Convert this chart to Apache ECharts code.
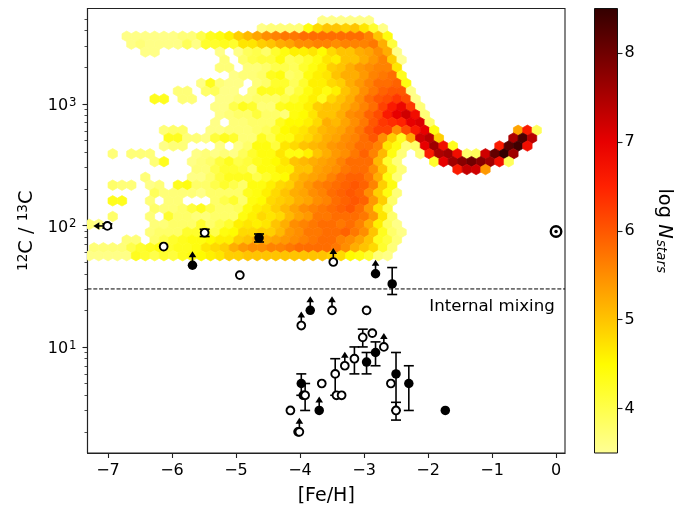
<!DOCTYPE html>
<html><head><meta charset="utf-8">
<style>html,body{margin:0;padding:0;background:#fff}#c{width:686px;height:506px}</style>
<script src="https://cdn.jsdelivr.net/npm/echarts@6/dist/echarts.min.js"></script></head>
<body><div id="c"></div>
<script>
const xTicks=[-7,-6,-5,-4,-3,-2,-1,0];
const yMajor=[10,100,1000];
const yMinor=[2,3,4,5,6,7,8,9,20,30,40,50,60,70,80,90,200,300,400,500,600,700,800,900,2000,3000,4000,5000];
const cbTicks=[4,5,6,7,8];
const hexColors=['#ffff96','#ffff4b','#fffc00','#ffc400','#ff8e00','#ff5700','#ff2100','#e70000','#ab0000','#6f0000','#330000'];
// hexagon lattice of the picture
const hexX0=-6.708, hexDX=0.1456, hexY0=3.685, hexDY=0.06447;
// each row: first column, then 10*log N per cell (0 = empty)
const hexRows=[
[21,36,36,36,36,36,36],
[14,36,37,37,37,37,44,48,50,50,49,50,47,42,36],
[0,36,36,36,36,36,36,37,37,40,43,44,46,49,51,53,55,56,57,57,58,58,58,58,58,58,58,56,50,44],
[0,36,37,36,36,36,36,39,36,42,42,43,42,47,47,49,50,52,53,55,55,56,56,55,56,56,56,57,52,41],
[2,36,36,0,0,0,0,0,0,36,0,36,39,40,38,42,44,46,46,47,45,48,50,50,52,53,55,52,36],
[10,37,0,38,40,41,41,44,39,40,42,44,47,46,50,50,52,54,56,49,35],
[10,37,37,0,37,37,38,40,40,39,42,44,46,49,50,52,54,55,56,56,47],
[11,36,37,37,38,43,44,38,39,44,46,47,50,52,52,54,56,57,58,43],
[8,36,43,37,36,36,0,37,38,42,42,39,42,46,46,48,49,52,54,56,58,58,59,44],
[5,37,37,0,38,39,36,36,0,37,43,43,43,38,41,44,46,44,46,50,52,55,57,59,60,60,36],
[3,43,43,0,37,37,0,0,36,36,37,37,38,38,38,40,42,44,46,43,48,50,52,55,58,60,61,63,61,36],
[9,36,36,40,43,42,37,37,43,44,44,46,49,50,50,52,54,56,58,62,66,69,63,37],
[10,36,37,38,38,41,38,38,37,44,45,47,50,50,52,55,56,59,61,66,70,72,68,37],
[9,36,0,37,37,38,38,38,43,45,45,46,48,52,51,53,55,57,60,63,64,65,70,71,38],
[4,37,38,38,0,0,36,36,37,37,37,38,39,42,45,46,47,49,51,52,53,55,57,60,62,62,55,61,66,70,44,0,0,0,0,0,0,0,0,53,66,39],
[4,43,43,37,37,36,41,43,42,37,37,43,40,44,44,47,48,50,52,53,55,56,58,60,55,49,43,53,72,74,49,0,0,0,0,0,0,0,75,83,74],
[4,36,37,37,0,0,0,36,0,36,38,44,44,41,47,48,50,51,52,54,55,56,58,58,56,47,44,37,38,70,76,68,43,0,0,0,0,66,82,84,68],
[-2,37,0,37,37,37,0,0,0,0,36,37,36,37,36,39,42,44,44,47,44,44,46,50,52,54,55,57,59,56,51,44,37,0,37,66,75,76,68,38,39,72,81,85,76],
[3,37,43,0,0,36,37,38,41,43,40,41,43,44,45,47,50,51,52,53,54,56,58,58,58,51,42,37,0,0,0,42,70,76,78,80,78,76,68,39],
[7,37,37,40,42,42,41,38,44,44,46,46,50,50,53,54,55,57,58,58,55,50,42,37,0,0,0,0,0,66,73,72,54],
[2,37,0,0,0,0,36,36,38,41,43,43,43,40,42,44,45,50,52,53,54,56,58,59,59,57,52,44,37],
[-2,38,37,37,0,36,37,0,43,44,38,38,40,42,40,38,44,44,46,48,49,52,54,56,57,58,59,60,59,56,49,44],
[3,39,37,37,37,37,36,38,38,38,38,43,44,46,48,50,52,53,55,56,58,59,60,59,55,49,44,37],
[-2,43,43,0,0,37,0,37,37,0,0,0,38,40,42,38,44,45,48,49,50,52,53,55,56,58,59,60,59,54,49,38],
[3,38,37,37,38,41,43,40,38,38,39,44,46,47,49,51,53,55,56,57,58,59,60,58,54,47,40],
[-2,38,0,0,0,37,0,42,38,38,37,37,38,38,38,44,46,48,47,48,51,53,54,57,57,58,58,58,57,54,47,38],
[-4,37,36,0,0,0,0,0,37,37,38,38,38,42,38,40,42,46,47,46,47,50,52,55,56,57,58,58,57,58,56,52,46,39,36],
[2,37,38,38,38,42,42,44,40,44,45,48,48,49,49,51,54,55,57,57,58,58,59,57,55,50,43,38,36],
[0,37,37,0,38,40,42,43,44,44,45,46,46,49,50,52,52,53,54,55,56,57,58,58,56,55,53,50,43,41,37],
[-4,37,37,37,37,40,42,43,44,42,43,43,44,47,48,49,52,54,55,55,56,56,57,58,58,58,58,57,55,52,50,48,42,37],
[-4,36,36,36,36,36,43,42,40,42,41,43,44,45,46,47,49,49,50,50,50,50,50,50,50,50,50,49,48,45,44,42,37,36]
];
const openStars=[[-7.01,99],[-6.13,67],[-5.49,87],[-4.94,39],[-3.48,50],[-3.5,20],[-2.96,20],[-3.98,15],[-2.87,13],[-3.02,12],[-2.69,10],[-3.15,8],[-3.30,7],[-3.45,6],[-2.58,5],[-3.66,5],[-3.92,4],[-3.43,4],[-3.35,4],[-4.15,3],[-2.50,3],[-4.03,2],[-4.01,2]];
const filledStars=[[-4.64,79],[-5.68,47],[-2.82,40],[-2.56,33],[-3.84,20],[-2.82,9],[-2.96,7.5],[-2.50,6],[-2.30,5],[-3.98,5],[-3.95,4],[-3.70,3],[-1.73,3]];
const errorBars=[[-5.49,81,93],[-4.64,73,85],[-7.01,95,103],[-2.56,27,45],[-3.02,10,14],[-2.82,7,11],[-3.15,6,10],[-2.96,6,9],[-3.45,4,8],[-2.50,3,9],[-2.50,2.5,3.5],[-2.30,3,7],[-3.98,4,6],[-3.92,3,5]];
const upLimits=[[-5.68,47],[-3.48,50],[-2.82,40],[-3.84,20],[-3.5,20],[-3.98,15],[-2.69,10],[-3.30,7],[-3.70,3],[-4.01,2]];
const leftLimits=[[-7.01,99]];
const sunPoint=[[0,89]];
const mixingLine=[[-7.32,30],[0.14,30]];
const mixingText=[[-0.02,21.6]];
const cbRange=[3.5,8.5];

const hexData=[];
hexRows.forEach((row,r)=>{
  const first=row[0];
  row.slice(1).forEach((v,i)=>{
    if(!v)return;
    const c=first+i+(r%2?0.5:0);
    hexData.push([hexX0+hexDX*c,Math.pow(10,hexY0-hexDY*r),v/10]);
  });
});
const F='DejaVu Sans';
function hexItem(p,api){
  const c=api.coord([api.value(0),api.value(1)]);
  const w=4.67,h=5.23;
  return {type:'polygon',shape:{points:[[c[0],c[1]-h],[c[0]+w,c[1]-h/2],[c[0]+w,c[1]+h/2],[c[0],c[1]+h],[c[0]-w,c[1]+h/2],[c[0]-w,c[1]-h/2]]},
    style:{fill:api.visual('color'),stroke:api.visual('color'),lineWidth:0.7}};
}
const ln={stroke:'#000',lineWidth:1.6,fill:null};
function errItem(p,api){
  const x=api.value(0),a=api.coord([x,api.value(1)]),b=api.coord([x,api.value(2)]);
  const seg=(x1,y1,x2,y2)=>({type:'line',shape:{x1,y1,x2,y2},style:ln});
  return {type:'group',children:[seg(a[0],a[1],b[0],b[1]),seg(a[0]-5,a[1],a[0]+5,a[1]),seg(b[0]-5,b[1],b[0]+5,b[1])]};
}
function upItem(p,api){
  const c=api.coord([api.value(0),api.value(1)]);
  return {type:'group',children:[
    {type:'line',shape:{x1:c[0],y1:c[1],x2:c[0],y2:c[1]-9},style:ln},
    {type:'polygon',shape:{points:[[c[0],c[1]-14],[c[0]+3.8,c[1]-8],[c[0]-3.8,c[1]-8]]},style:{fill:'#000'}}]};
}
function leftItem(p,api){
  const c=api.coord([api.value(0),api.value(1)]);
  return {type:'group',children:[
    {type:'line',shape:{x1:c[0],y1:c[1],x2:c[0]-9,y2:c[1]},style:ln},
    {type:'polygon',shape:{points:[[c[0]-14,c[1]],[c[0]-8,c[1]+3.8],[c[0]-8,c[1]-3.8]]},style:{fill:'#000'}}]};
}
function cbItem(p,api){
  const a=api.coord([0,cbRange[1]]),b=api.coord([1,cbRange[0]]);
  const stops=hexColors.map((c,i)=>({offset:1-i/(hexColors.length-1),color:c}));
  return {type:'rect',shape:{x:a[0],y:a[1],width:b[0]-a[0],height:b[1]-a[1]},
    style:{fill:new echarts.graphic.LinearGradient(0,0,0,1,stops),stroke:'#111',lineWidth:1}};
}
const chart=echarts.init(document.getElementById('c'),null,{renderer:'canvas'});
const axLine={show:true,onZero:false,lineStyle:{color:'#222',width:1.1}};
chart.setOption({
  animation:false,
  textStyle:{fontFamily:F},
  grid:[
    {left:87.5,top:8.5,width:477.5,height:444.5,show:true,borderColor:'#222',borderWidth:1.1,backgroundColor:'#fff',outerBoundsMode:'none',containLabel:false},
    {left:594.5,top:8.5,width:23,height:444.5,show:false,outerBoundsMode:'none',containLabel:false}
  ],
  xAxis:[
    {type:'value',gridIndex:0,min:-7.32,max:0.14,position:'bottom',
     name:'[Fe/H]',nameLocation:'middle',nameGap:34,nameTextStyle:{fontSize:19,color:'#000',fontFamily:F},
     axisLine:axLine,splitLine:{show:false},
     axisTick:{show:true,length:5,customValues:xTicks,lineStyle:{color:'#222',width:1.1}},
     axisLabel:{customValues:xTicks,color:'#000',fontSize:16,margin:10,fontFamily:F,formatter:v=>String(v).replace('-','\u2212')}},
    {type:'value',gridIndex:1,min:0,max:1,show:false}
  ],
  yAxis:[
    {type:'log',logBase:10,gridIndex:0,min:1.34,max:6095,
     name:'{s|12}{m|C / }{s|13}{m|C}',nameLocation:'middle',nameGap:48,nameRotate:90,
     nameTextStyle:{color:'#000',rich:{m:{fontSize:19.4,fontFamily:F,color:'#000'},s:{fontSize:13.6,fontFamily:F,color:'#000',verticalAlign:'top',lineHeight:22}}},
     axisLine:axLine,splitLine:{show:false},
     axisTick:{show:true,length:5,customValues:yMajor,lineStyle:{color:'#222',width:1.1}},
     axisLabel:{customValues:yMajor,margin:11,color:'#000',padding:[4,0,0,0],
       formatter:v=>'{m|10}{s|'+Math.round(Math.log10(v))+'}',
       rich:{m:{fontSize:16,fontFamily:F,color:'#000'},s:{fontSize:11.7,fontFamily:F,color:'#000',verticalAlign:'top',lineHeight:18,padding:[0,0,0,1]}}}},
    {type:'log',logBase:10,gridIndex:0,min:1.34,max:6095,position:'left',
     axisLine:{show:false,onZero:false},splitLine:{show:false},axisLabel:{show:false},
     axisTick:{show:true,length:3,customValues:yMinor,lineStyle:{color:'#222',width:0.8}}},
    {type:'value',gridIndex:1,min:cbRange[0],max:cbRange[1],position:'right',
     name:'{a|log }{b|N}{c|stars}',nameLocation:'middle',nameGap:36,nameRotate:-90,
     nameTextStyle:{color:'#000',rich:{a:{fontSize:19.4,fontFamily:F,color:'#000'},b:{fontSize:19.4,fontFamily:F,fontStyle:'italic',color:'#000'},c:{fontSize:13.6,fontFamily:F,fontStyle:'italic',color:'#000',verticalAlign:'bottom',padding:[8,0,0,1]}}},
     axisLine:{show:false,onZero:false},splitLine:{show:false},
     axisTick:{show:true,length:5,customValues:cbTicks,lineStyle:{color:'#222',width:1.1}},
     axisLabel:{customValues:cbTicks,color:'#000',fontSize:16,margin:7,fontFamily:F}}
  ],
  visualMap:{show:false,type:'continuous',seriesIndex:0,dimension:2,min:cbRange[0],max:cbRange[1],inRange:{color:hexColors}},
  series:[
    {type:'custom',name:'hex',xAxisIndex:0,yAxisIndex:0,clip:true,z:2,data:hexData,renderItem:hexItem,silent:true},
    {type:'line',xAxisIndex:0,yAxisIndex:0,data:mixingLine,symbol:'none',z:3,lineStyle:{color:'#000',width:1,type:[4,1.8]},silent:true},
    {type:'custom',xAxisIndex:0,yAxisIndex:0,z:4,data:errorBars,renderItem:errItem,silent:true},
    {type:'custom',xAxisIndex:0,yAxisIndex:0,z:4,data:upLimits,renderItem:upItem,silent:true},
    {type:'custom',xAxisIndex:0,yAxisIndex:0,z:4,data:leftLimits,renderItem:leftItem,silent:true},
    {type:'scatter',xAxisIndex:0,yAxisIndex:0,z:5,data:filledStars,symbolSize:9.5,itemStyle:{color:'#000',borderWidth:0,opacity:1},silent:true},
    {type:'scatter',xAxisIndex:0,yAxisIndex:0,z:6,data:openStars,symbolSize:7.8,itemStyle:{color:'#fff',borderColor:'#000',borderWidth:1.9,opacity:1},silent:true},
    {type:'scatter',xAxisIndex:0,yAxisIndex:0,z:6,data:sunPoint,symbolSize:10.5,itemStyle:{color:'#fff',borderColor:'#000',borderWidth:2.4,opacity:1},silent:true},
    {type:'scatter',xAxisIndex:0,yAxisIndex:0,z:7,data:sunPoint,symbolSize:3.5,itemStyle:{color:'#000',opacity:1},silent:true},
    {type:'scatter',xAxisIndex:0,yAxisIndex:0,z:7,data:mixingText,symbolSize:0,silent:true,itemStyle:{opacity:1},
     label:{show:true,position:'left',distance:0,formatter:'Internal mixing',color:'#000',opacity:1,fontSize:16.6,fontFamily:F}},
    {type:'custom',xAxisIndex:1,yAxisIndex:2,z:2,data:[[0,cbRange[1]]],renderItem:cbItem,silent:true}
  ]
});
</script></body></html>
